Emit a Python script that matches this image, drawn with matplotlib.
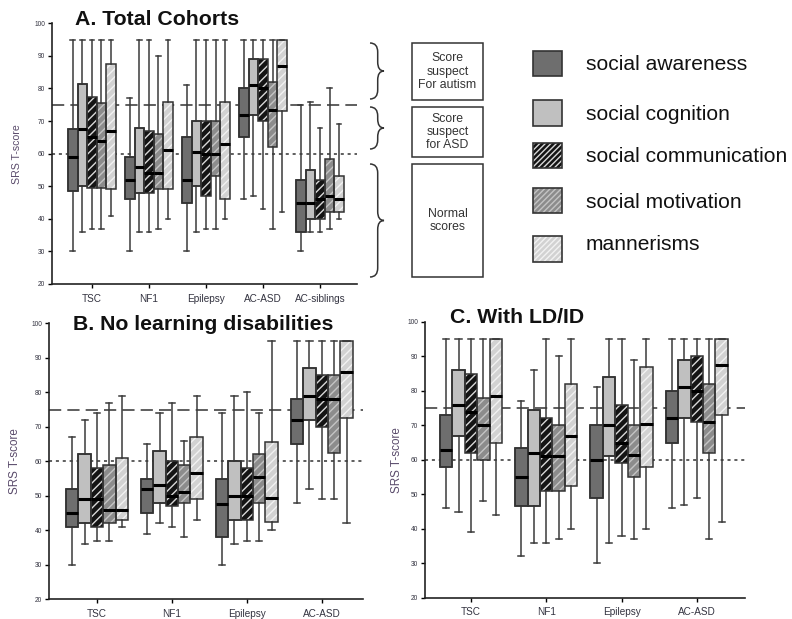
import matplotlib
matplotlib.use("Agg")
import matplotlib.pyplot as plt
from matplotlib.patches import PathPatch, Rectangle
from matplotlib.path import Path

plt.rcParams.update({
    "font.family": ["Liberation Sans", "DejaVu Sans"],
    "hatch.linewidth": 1.0,
    "axes.linewidth": 1.2,
})

# ------------------------------------------------------------------
# SRS T-score box statistics: rows = cohort, columns = subscale
# ------------------------------------------------------------------
subscales = ["social awareness", "social cognition", "social communication",
             "social motivation", "mannerisms"]

groups_a = ["TSC", "NF1", "Epilepsy", "AC-ASD", "AC-siblings"]
a_hi = [[95, 95, 95, 95, 95], [77, 95, 95, 90, 95], [81, 95, 95, 95, 95],
        [95, 95, 95, 95, 95], [75, 76, 68, 80, 69]]
a_q3 = [[67.5, 81.5, 77.5, 75.5, 87.5], [59, 68, 67, 66, 76], [65, 70, 70, 70, 76],
        [80, 89, 89, 82, 95], [52, 55, 52, 58.4, 53.2]]
a_med = [[59, 67.5, 65, 64, 67], [52, 56, 54, 54, 61], [52, 60.5, 60, 60, 63],
         [72, 81, 80, 73.5, 87], [45, 45, 46, 47, 46]]
a_q1 = [[48.5, 50, 49.5, 49.5, 49], [46, 48, 48, 49, 49], [45, 50, 47, 53, 46],
        [65, 72, 70, 62, 73], [36, 40, 40, 42, 42]]
a_lo = [[30, 36, 37, 37, 41], [30, 36, 36, 37, 40], [30, 36, 37, 37, 40],
        [46, 47, 43, 37, 42], [30, 36, 36, 37, 40]]

groups_bc = ["TSC", "NF1", "Epilepsy", "AC-ASD"]
b_hi = [[67, 72, 74, 77, 79], [65, 74, 77, 66, 79], [74, 79, 80, 74, 95],
        [95, 95, 95, 95, 95]]
b_q3 = [[52, 62, 58, 59, 61], [55, 63, 60, 59, 67], [55, 60, 58, 62, 65.5],
        [78, 87, 85, 85, 95]]
b_med = [[45, 49, 49, 46, 46], [52, 53, 50, 51, 56.5], [47.5, 50, 50, 55.5, 49.5],
         [72, 79, 78, 78, 86]]
b_q1 = [[41, 42, 41, 42, 43], [45, 48, 47, 48, 49], [38, 43, 43, 48, 42.5],
        [65, 72, 70, 62.5, 72.5]]
b_lo = [[30, 36, 37, 37, 41], [39, 42, 41, 38, 43], [30, 36, 37, 37, 40],
        [48, 52, 49, 49, 42]]

c_hi = [[95, 95, 95, 95, 95], [77, 86, 95, 90, 95], [81, 95, 95, 89, 95],
        [95, 95, 95, 95, 95]]
c_q3 = [[73, 86, 85, 78, 95], [63.5, 74.5, 72, 70, 82], [70, 84, 76, 70, 87],
        [80, 89, 90, 82, 95]]
c_med = [[63, 76, 74, 70, 78.5], [55, 62, 61, 61, 67], [60, 70, 65, 61.5, 70.5],
         [72, 81, 80, 71, 87.5]]
c_q1 = [[58, 67, 62, 60, 65], [46.5, 46.5, 51, 51, 52.5], [49, 61, 59, 55, 58],
        [65, 72, 71, 62, 73]]
c_lo = [[46, 45, 39, 48, 44], [32, 36, 36, 37, 40], [30, 36, 38, 37, 40],
        [46, 47, 49, 37, 42]]

# fill, hatch, hatch colour per subscale
fills = ["#6e6e6e", "#c0c0c0", "#141414", "#8c8c8c", "#d2d2d2"]
hatches = [None, None, "////", "////", "////"]
hatch_cols = [None, None, "#d8d8d8", "#c4c4c4", "#f2f2f2"]
edge = "#333333"
txt_col = "#333340"

W, H = 792, 619
fig = plt.figure(figsize=(W / 100, H / 100), dpi=100)


def fx(px):
    return px / W


def fy(py):
    return 1 - py / H


def panel(rect_px, groups, lo, q1, med, q3, hi, xlim, box_w, title, title_xy,
          ylab_x, ylab_size):
    x0, y0, x1, y1 = rect_px
    ax = fig.add_axes([fx(x0), fy(y1), fx(x1 - x0), (y1 - y0) / H])
    ax.set_facecolor("none")
    # cut-off lines sit behind the boxes
    ax.axhline(75, color="#333333", lw=1.1, ls=(0, (8, 4)), zorder=1)
    ax.axhline(60, color="#333333", lw=1.1, ls=(0, (2, 2.5)), zorder=1)
    for g in range(len(groups)):
        stats = []
        pos = []
        for s in range(5):
            stats.append(dict(whislo=lo[g][s], q1=q1[g][s], med=med[g][s],
                              q3=q3[g][s], whishi=hi[g][s], fliers=[]))
            pos.append(g + 1 + (s - 2) * box_w)
        bp = ax.bxp(stats, positions=pos, widths=box_w, patch_artist=True,
                    showfliers=False, manage_ticks=False,
                    whiskerprops=dict(color="#3a3a3a", lw=1.1),
                    capprops=dict(color="#3a3a3a", lw=1.1),
                    medianprops=dict(color="black", lw=2.2),
                    capwidths=box_w * 0.5)
        for s, box in enumerate(bp["boxes"]):
            box.set_facecolor(fills[s])
            if hatches[s]:
                box.set_hatch(hatches[s])
                box.set_edgecolor(hatch_cols[s])
                box.set_linewidth(0)
            else:
                box.set_edgecolor(edge)
                box.set_linewidth(1.1)
            box.set_zorder(2)
            ax.add_patch(PathPatch(box.get_path(), transform=box.get_transform(),
                                   fill=False, edgecolor=edge, lw=1.1, zorder=2.1))
        for m in bp["medians"]:
            m.set_zorder(3)
    ax.set_xlim(*xlim)
    ax.set_ylim(20, 100)
    ax.set_yticks(range(20, 101, 10))
    ax.set_xticks(range(1, len(groups) + 1))
    ax.set_xticklabels(groups, fontsize=7.2, color=txt_col)
    ax.tick_params(axis="y", labelsize=4.8, labelcolor=txt_col, length=3,
                   width=1, pad=2)
    ax.tick_params(axis="x", length=3, width=1, pad=4)
    for sp in ("top", "right"):
        ax.spines[sp].set_visible(False)
    ax.spines["left"].set_color("#222222")
    ax.spines["bottom"].set_color("#222222")
    fig.text(fx(ylab_x), fy((y0 + y1) / 2), "SRS T-score", rotation=90,
             ha="center", va="center", fontsize=ylab_size, color="#5a4b6b")
    fig.text(fx(title_xy[0]), fy(title_xy[1]), title, fontsize=15.3,
             fontweight="bold", ha="left", va="baseline", color="#111111")
    return ax


panel((52, 23.3, 357, 284), groups_a, a_lo, a_q1, a_med, a_q3, a_hi,
      (0.30, 5.65), 0.168, "A. Total Cohorts", (75, 25), 17, 7.6)
panel((49, 323.3, 363, 599.3), groups_bc, b_lo, b_q1, b_med, b_q3, b_hi,
      (0.36, 4.55), 0.165, "B. No learning disabilities", (73, 330), 15, 8.4)
panel((425, 322, 745, 597.7), groups_bc, c_lo, c_q1, c_med, c_q3, c_hi,
      (0.39, 4.64), 0.165, "C. With LD/ID", (450, 323), 397, 8.4)


# curly braces beside panel A
def brace(x0, ytop, ybot, w=14, r=9):
    ym = (ytop + ybot) / 2
    xm = x0 + w * 0.55
    xt = x0 + w
    pts = [(x0, ytop), (xm, ytop), (xm, ytop + r),
           (xm, ym - r), (xm, ym), (xt, ym),
           (xm, ym), (xm, ym + r),
           (xm, ybot - r), (xm, ybot), (x0, ybot)]
    codes = [Path.MOVETO, Path.CURVE3, Path.CURVE3,
             Path.LINETO, Path.CURVE3, Path.CURVE3,
             Path.CURVE3, Path.CURVE3,
             Path.LINETO, Path.CURVE3, Path.CURVE3]
    path = Path([(fx(a), fy(b)) for a, b in pts], codes)
    fig.patches.append(PathPatch(path, fill=False, edgecolor="#333333", lw=1.1,
                                 transform=fig.transFigure))


brace(370, 43, 99)
brace(370, 107, 149)
brace(370, 164, 277)

# score range boxes
range_boxes = [(43, 100, "Score\nsuspect\nFor autism"),
               (107, 157, "Score\nsuspect\nfor ASD"),
               (164, 277, "Normal\nscores")]
for top, bot, label in range_boxes:
    fig.patches.append(Rectangle((fx(412), fy(bot)), fx(483 - 412), (bot - top) / H,
                                 fill=False, edgecolor="#333333", lw=1.1,
                                 transform=fig.transFigure))
    fig.text(fx(447.5), fy((top + bot) / 2), label, ha="center", va="center",
             fontsize=8.8, color="#333333", linespacing=1.15)

# subscale key
key_rows = [(51, 76, 65), (100, 126, 115), (143, 168, 157), (188, 213, 202),
            (236, 262, 245)]
for s, (top, bot, ty) in enumerate(key_rows):
    sq = Rectangle((fx(533), fy(bot)), fx(562 - 533), (bot - top) / H,
                   facecolor=fills[s], transform=fig.transFigure)
    if hatches[s]:
        sq.set_hatch("//////")
        sq.set_edgecolor(hatch_cols[s])
        sq.set_linewidth(0)
    fig.patches.append(sq)
    fig.patches.append(Rectangle((fx(533), fy(bot)), fx(562 - 533), (bot - top) / H,
                                 fill=False, edgecolor="#333333", lw=1.2,
                                 transform=fig.transFigure))
    fig.text(fx(586), fy(ty), subscales[s], ha="left", va="center",
             fontsize=15.1, color="#111111")

fig.savefig("out.png", dpi=100, facecolor="white")
